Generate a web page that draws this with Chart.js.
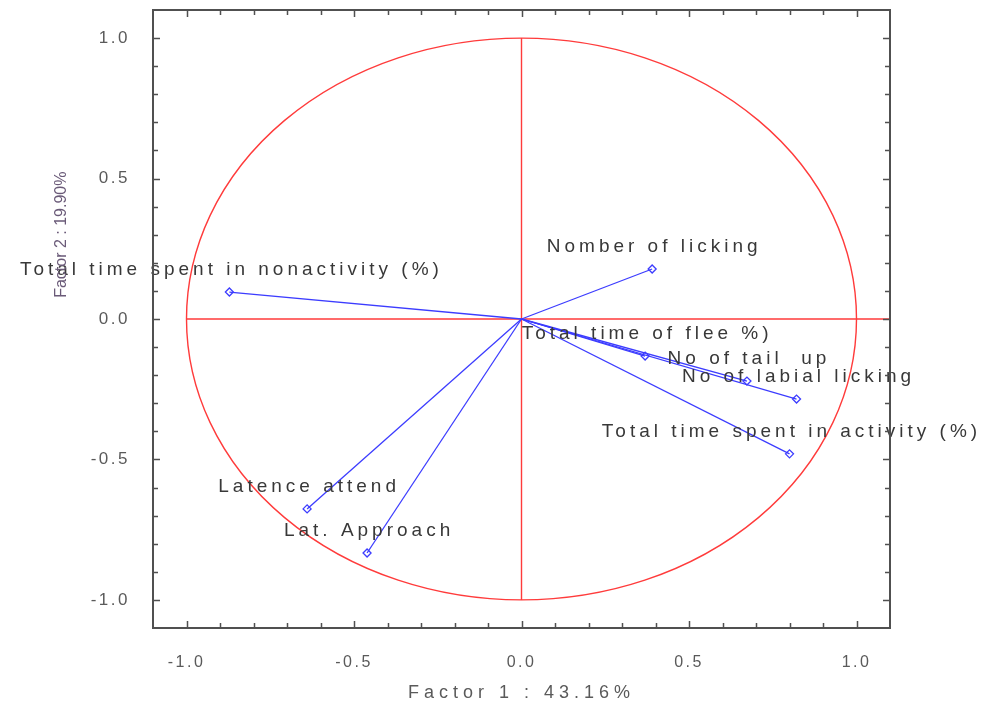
<!DOCTYPE html>
<html>
<head>
<meta charset="utf-8">
<script src="https://cdn.jsdelivr.net/npm/chart.js@4.4.0/dist/chart.umd.min.js"></script>
<style>
  html, body { margin: 0; padding: 0; background: #fff; }
  #wrap { width: 986px; height: 707px; position: relative; }
</style>
</head>
<body>
<div id="wrap"><canvas id="pca"></canvas></div>
<script>
// variable loadings on the first two factors
const variables = [
  'Total time spent in nonactivity (%)',
  'Nomber of licking',
  'Total time of flee %)',
  'No of tail  up',
  'No of labial licking',
  'Total time spent in activity (%)',
  'Latence attend',
  'Lat. Approach'
];
const factor1 = [-0.872, 0.390, 0.369, 0.673, 0.821, 0.800, -0.640, -0.461];
const factor2 = [0.096, 0.178, -0.132, -0.221, -0.285, -0.480, -0.676, -0.833];
const tickValues = [-1.0, -0.5, 0.0, 0.5, 1.0];
const axisTitleX = 'Factor 1 : 43.16%';
const axisTitleY = 'Factor 2 : 19.90%';

const lineBlue = '#3c3cff';
const circleRed = '#ff3b3b';
const frameGrey = '#505050';

const datasets = variables.map((name, i) => ({
  label: name,
  data: [{ x: 0, y: 0 }, { x: factor1[i], y: factor2[i] }],
  showLine: true,
  borderColor: lineBlue,
  borderWidth: 1.3,
  pointRadius: [0, 4],
  pointStyle: 'rectRot',
  pointBackgroundColor: 'rgba(0,0,0,0)',
  pointBorderColor: lineBlue,
  pointBorderWidth: 1.3
}));

// circle, cross, frame, minor ticks and labels
const pcaDecor = {
  id: 'pcaDecor',
  beforeDraw(chart) {
    chart.ctx.letterSpacing = '2.5px'; // wide tick labels like the original
  },
  beforeDatasetsDraw(chart) {
    const ctx = chart.ctx;
    const xs = chart.scales.x, ys = chart.scales.y;
    const a = chart.chartArea;
    ctx.save();
    ctx.letterSpacing = '0px';
    const cx = xs.getPixelForValue(0), cy = ys.getPixelForValue(0);
    const rx = xs.getPixelForValue(1) - cx, ry = cy - ys.getPixelForValue(1);
    ctx.strokeStyle = circleRed;
    ctx.lineWidth = 1.4;
    ctx.beginPath();
    ctx.ellipse(cx, cy, rx, ry, 0, 0, Math.PI * 2);
    ctx.stroke();
    ctx.beginPath();
    ctx.moveTo(xs.getPixelForValue(-1), cy);
    ctx.lineTo(a.right, cy);
    ctx.moveTo(cx, ys.getPixelForValue(1));
    ctx.lineTo(cx, ys.getPixelForValue(-1));
    ctx.stroke();
    ctx.restore();
  },
  afterDatasetsDraw(chart) {
    const ctx = chart.ctx;
    const xs = chart.scales.x, ys = chart.scales.y;
    ctx.save();
    ctx.font = '19px "Liberation Sans", Arial, sans-serif';
    ctx.letterSpacing = '4px';
    ctx.fillStyle = '#383838';
    ctx.textAlign = 'center';
    ctx.textBaseline = 'middle';
    variables.forEach((name, i) => {
      const px = xs.getPixelForValue(factor1[i]);
      const py = ys.getPixelForValue(factor2[i]);
      ctx.fillText(name, px + 2, py - 22);
    });
    ctx.restore();
  },
  afterDraw(chart) {
    const ctx = chart.ctx;
    const xs = chart.scales.x, ys = chart.scales.y;
    const a = chart.chartArea;
    ctx.save();
    ctx.letterSpacing = '0px';
    ctx.strokeStyle = frameGrey;
    ctx.lineWidth = 2;
    ctx.strokeRect(a.left, a.top, a.right - a.left, a.bottom - a.top);
    ctx.lineWidth = 1.5;
    ctx.beginPath();
    for (let k = -10; k <= 10; k++) {
      const v = k / 10;
      const len = (k % 5 === 0) ? 7 : 5;
      const px = Math.round(xs.getPixelForValue(v)) + 0.5;
      const py = Math.round(ys.getPixelForValue(v)) + 0.5;
      ctx.moveTo(px, a.bottom); ctx.lineTo(px, a.bottom - len);
      ctx.moveTo(px, a.top); ctx.lineTo(px, a.top + len);
      ctx.moveTo(a.left, py); ctx.lineTo(a.left + len, py);
      ctx.moveTo(a.right, py); ctx.lineTo(a.right - len, py);
    }
    ctx.stroke();

    // axis titles
    ctx.fillStyle = '#5a5a5a';
    ctx.textAlign = 'center';
    ctx.textBaseline = 'middle';
    ctx.font = '18px "Liberation Sans", Arial, sans-serif';
    ctx.letterSpacing = '5px';
    ctx.fillText(axisTitleX, (a.left + a.right) / 2, a.bottom + 65);
    ctx.letterSpacing = '0px';
    ctx.font = '16px "Liberation Sans", Arial, sans-serif';
    ctx.fillStyle = '#6a5a78';
    ctx.translate(a.left - 91, ys.getPixelForValue(0.3));
    ctx.rotate(-Math.PI / 2);
    ctx.fillText(axisTitleY, 0, 0);
    ctx.restore();
  }
};

new Chart(document.getElementById('pca').getContext('2d'), {
  type: 'scatter',
  data: { datasets: datasets },
  options: {
    responsive: true,
    maintainAspectRatio: false,
    animation: false,
    layout: { padding: { top: 10, right: 96, left: 0, bottom: 0 } },
    plugins: { legend: { display: false }, tooltip: { enabled: false } },
    scales: {
      x: {
        type: 'linear',
        min: -1.1,
        max: 1.1,
        grid: { display: false },
        border: { display: false },
        afterBuildTicks(scale) { scale.ticks = tickValues.map(v => ({ value: v })); },
        afterFit(scale) {
          scale.height = 79;
          scale.paddingLeft = 0; scale.paddingRight = 0;
        },
        ticks: {
          padding: 17,
          color: '#5a5a5a',
          font: { family: '"Liberation Sans", Arial, sans-serif', size: 16 },
          maxRotation: 0,
          callback: v => v.toFixed(1)
        }
      },
      y: {
        type: 'linear',
        min: -1.1,
        max: 1.1,
        grid: { display: false },
        border: { display: false },
        afterBuildTicks(scale) { scale.ticks = tickValues.map(v => ({ value: v })); },
        afterFit(scale) {
          scale.width = 153;
          scale.paddingTop = 0; scale.paddingBottom = 0;
        },
        ticks: {
          padding: 15,
          color: '#5a5a5a',
          font: { family: '"Liberation Sans", Arial, sans-serif', size: 17 },
          callback: v => v.toFixed(1)
        }
      }
    }
  },
  plugins: [pcaDecor]
});
</script>
</body>
</html>
